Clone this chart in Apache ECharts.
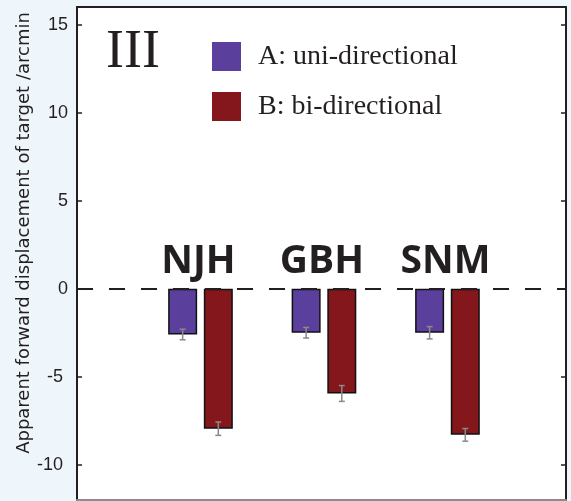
<!DOCTYPE html>
<html>
<head>
<meta charset="utf-8">
<script src="https://cdn.jsdelivr.net/npm/echarts@6/dist/echarts.min.js"></script>
<style>
html,body{margin:0;padding:0;background:#eef6fc;}
#chart{width:571px;height:501px;}
</style>
</head>
<body>
<div id="chart"></div>
<script>
const categories = ['NJH', 'GBH', 'SNM'];
const groupPositions = [1, 2, 3];
const seriesNames = ['A: uni-directional', 'B: bi-directional'];
const uniValues = [-2.6, -2.5, -2.5];
const uniErrors = [0.3, 0.3, 0.35];
const biValues = [-7.95, -5.95, -8.3];
const biErrors = [0.38, 0.45, 0.36];
const yTickValues = [-10, -5, 0, 5, 10, 15];
const panelLabel = 'III';
const yAxisTitle = 'Apparent forward displacement of target /arcmin';

const BAR_W = 29;
const BAR_GAP = 0.23;
const HALF_SPACING = (BAR_W + BAR_W * BAR_GAP) / 2;
const TEXT = '#231f20';

const chart = echarts.init(document.getElementById('chart'), null, {renderer: 'canvas'});

function errorSeries(values, errors, side) {
  return {
    type: 'custom',
    silent: true,
    z: 5,
    data: groupPositions.map((x, i) => [x, values[i], errors[i]]),
    renderItem: function (params, api) {
      const x = api.value(0), v = api.value(1), e = api.value(2);
      const top = api.coord([x, v + e]);
      const bot = api.coord([x, v - e]);
      const cx = top[0] + side * HALF_SPACING;
      const cap = 3;
      const st = {stroke: '#8a8a8a', lineWidth: 1.5};
      return {
        type: 'group',
        children: [
          {type: 'line', shape: {x1: cx, y1: top[1], x2: cx, y2: bot[1]}, style: st},
          {type: 'line', shape: {x1: cx - cap, y1: top[1], x2: cx + cap, y2: top[1]}, style: st},
          {type: 'line', shape: {x1: cx - cap, y1: bot[1], x2: cx + cap, y2: bot[1]}, style: st}
        ]
      };
    }
  };
}

const option = {
  backgroundColor: '#eef6fc',
  animation: false,
  grid: {left: 77, right: 5, top: 7, bottom: 1, show: true, backgroundColor: '#ffffff', borderWidth: 0},
  legend: {
    data: seriesNames,
    orient: 'vertical',
    left: 212,
    top: 42,
    padding: 0,
    itemWidth: 29,
    itemHeight: 29,
    itemGap: 21,
    icon: 'rect',
    itemStyle: {borderWidth: 0},
    textStyle: {fontFamily: 'Liberation Serif', fontSize: 28, color: TEXT, padding: [0, 0, 0, 12]}
  },
  xAxis: [
    {type: 'value', min: 0, max: 3.96, position: 'bottom',
     axisLine: {show: true, onZero: false, lineStyle: {color: '#8c8c8c', width: 2}},
     axisTick: {show: false}, axisLabel: {show: false}, splitLine: {show: false}},
    {type: 'value', min: 0, max: 3.96, position: 'top',
     axisLine: {show: true, onZero: false, lineStyle: {color: TEXT, width: 2}},
     axisTick: {show: false}, axisLabel: {show: false}, splitLine: {show: false}}
  ],
  yAxis: [
    {type: 'value', min: -12, max: 16, position: 'left',
     axisLine: {show: true, onZero: false, lineStyle: {color: TEXT, width: 2}},
     axisTick: {show: true, inside: true, length: 5, customValues: yTickValues, lineStyle: {color: TEXT, width: 1.5}},
     axisLabel: {show: true, customValues: yTickValues, color: TEXT, fontSize: 18, fontFamily: 'Liberation Sans', margin: 9,
                 padding: [4, 0, 0, 0],
                 formatter: function (v) { return v < 0 ? v + ' ' : String(v); }},
     splitLine: {show: false}},
    {type: 'value', min: -12, max: 16, position: 'right',
     axisLine: {show: true, onZero: false, lineStyle: {color: TEXT, width: 2}},
     axisTick: {show: true, inside: true, length: 5, customValues: yTickValues, lineStyle: {color: TEXT, width: 1.5}},
     axisLabel: {show: false},
     splitLine: {show: false}}
  ],
  series: [
    {
      name: seriesNames[0], type: 'bar', barWidth: BAR_W, barGap: (BAR_GAP * 100) + '%',
      data: groupPositions.map((x, i) => [x, uniValues[i]]),
      itemStyle: {color: '#5a3f9c', borderColor: '#111', borderWidth: 1.5},
      markLine: {
        silent: true, symbol: 'none', label: {show: false},
        lineStyle: {color: TEXT, width: 2, type: [16, 16]},
        data: [{yAxis: 0}]
      },
      z: 3
    },
    {
      name: seriesNames[1], type: 'bar', barWidth: BAR_W, barGap: (BAR_GAP * 100) + '%',
      data: groupPositions.map((x, i) => [x, biValues[i]]),
      itemStyle: {color: '#84171c', borderColor: '#111', borderWidth: 1.5},
      z: 3
    },
    errorSeries(uniValues, uniErrors, -1),
    errorSeries(biValues, biErrors, 1),
    {
      type: 'custom', silent: true, z: 6,
      data: groupPositions.map((x, i) => [x, 0, i]),
      renderItem: function (params, api) {
        const p = api.coord([api.value(0), api.value(1)]);
        return {
          type: 'text', x: p[0] - 2, y: p[1] - 27,
          style: {text: categories[api.value(2)], fill: TEXT, font: 'bold 39px "Open Sans", sans-serif',
                  align: 'center', verticalAlign: 'middle'}
        };
      }
    }
  ],
  graphic: [
    {type: 'text', left: 106, top: 26, z: 10,
     style: {text: panelLabel, fill: TEXT, font: '54px "Liberation Serif", serif'}},
    {type: 'text', x: 24, y: 233, rotation: Math.PI / 2, z: 10,
     style: {text: yAxisTitle, fill: TEXT, font: '18px "DejaVu Sans", sans-serif', align: 'center', verticalAlign: 'middle'}}
  ]
};
chart.setOption(option);
</script>
</body>
</html>
